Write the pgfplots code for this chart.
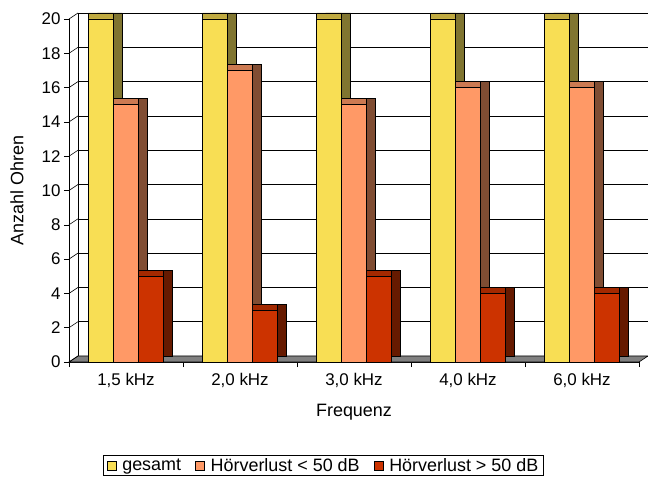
\documentclass[border=0pt]{standalone}
\usepackage{pgfplots}
\pgfplotsset{compat=1.18}
\usepackage{fontspec}
\setmainfont{Liberation Sans}
\definecolor{yfront}{RGB}{248,222,84}
\definecolor{ytop}{RGB}{192,170,64}
\definecolor{yside}{RGB}{128,117,48}
\definecolor{ofront}{RGB}{255,153,102}
\definecolor{otop}{RGB}{204,122,82}
\definecolor{oside}{RGB}{128,77,51}
\definecolor{rfront}{RGB}{204,51,0}
\definecolor{rtop}{RGB}{163,41,0}
\definecolor{rside}{RGB}{102,26,0}
\definecolor{floorgray}{RGB}{128,128,128}
\tikzset{box3d/.style n args={3}{fill=#1, draw=black, line width=0.6bp,
  preaction={fill=#3, draw=black, line width=0.6bp, transform canvas={shift={(9bp,6bp)}}},
  preaction={fill=#2, draw=black, line width=0.6bp, transform canvas={shift={(0bp,6bp)}}}}}
\newcommand{\tickfont}{\fontsize{17}{20}\selectfont}
\newcommand{\labfont}{\fontsize{18}{21}\selectfont}
\begin{document}
\begin{tikzpicture}
\useasboundingbox (-69bp,-115bp) rectangle (579bp,362bp);
\begin{axis}[
  at={(0,0)}, anchor=south west,
  scale only axis, width=570bp, height=343bp,
  clip=false,
  xmin=-0.5, xmax=4.5, ymin=0, ymax=20,
  axis x line*=bottom, axis y line*=left,
  axis line style={black, line width=0.6bp, -},
  xtick={-0.5,0.5,1.5,2.5,3.5,4.5},
  x tick label as interval,
  xticklabels={{1,5 kHz},{2,0 kHz},{3,0 kHz},{4,0 kHz},{6,0 kHz}},
  xticklabel style={yshift=-3bp},
  ytick={0,2,...,20},
  tick align=outside, major tick length=5bp,
  tick style={black, line width=0.6bp},
  ymajorgrids,
  major grid style={black, line width=0.6bp, transform canvas={shift={(9bp,6bp)}}},
  tick label style={font=\tickfont},
  /pgf/number format/assume math mode=true,
  xlabel={Frequenz}, ylabel={Anzahl Ohren},
  every axis x label/.style={at={(axis description cs:0.5,0)}, anchor=center, yshift=-50bp, font=\labfont},
  every axis y label/.style={at={(axis description cs:-0.0912,0.5)}, anchor=center, rotate=90, font=\labfont},
  legend columns=3,
  legend style={at={(axis description cs:0.4465,-0.2711)}, anchor=north, draw=black, line width=0.6bp,
    font=\labfont, inner sep=1bp, inner xsep=3bp,
    /tikz/every odd column/.append style={column sep=4bp},
    /tikz/every even column/.append style={column sep=12bp}},
]
% floor
\addplot[fill=floorgray, draw=black, line width=0.6bp, forget plot]
  coordinates {(-0.5,0) (4.5,0) (4.579,0.35) (-0.421,0.35)} -- cycle;
% back-left wall edge and diagonal ticks
\addplot[black, line width=0.6bp, forget plot] coordinates {(-0.421,0.35) (-0.421,20.35)};
\addplot[black, line width=0.6bp, forget plot, unbounded coords=jump] coordinates {
 (-0.5,0) (-0.421,0.35) (-0.5,nan)
 (-0.5,2) (-0.421,2.35) (-0.5,nan)
 (-0.5,4) (-0.421,4.35) (-0.5,nan)
 (-0.5,6) (-0.421,6.35) (-0.5,nan)
 (-0.5,8) (-0.421,8.35) (-0.5,nan)
 (-0.5,10) (-0.421,10.35) (-0.5,nan)
 (-0.5,12) (-0.421,12.35) (-0.5,nan)
 (-0.5,14) (-0.421,14.35) (-0.5,nan)
 (-0.5,16) (-0.421,16.35) (-0.5,nan)
 (-0.5,18) (-0.421,18.35) (-0.5,nan)
 (-0.5,20) (-0.421,20.35)};
% bars
\addplot[ybar, bar width=25bp, bar shift=-25bp, box3d={yfront}{ytop}{yside}, forget plot]
  coordinates {(0,20) (1,20) (2,20) (3,20) (4,20)};
\addplot[ybar, bar width=25bp, bar shift=0bp, box3d={ofront}{otop}{oside}, forget plot]
  coordinates {(0,15) (1,17) (2,15) (3,16) (4,16)};
\addplot[ybar, bar width=25bp, bar shift=25bp, box3d={rfront}{rtop}{rside}, forget plot]
  coordinates {(0,5) (1,3) (2,5) (3,4) (4,4)};
% legend
\addlegendimage{legend image code/.code={\draw[fill=yfront, draw=black, line width=0.6bp] (0bp,-4.5bp) rectangle (9bp,4.5bp);}}
\addlegendentry{gesamt}
\addlegendimage{legend image code/.code={\draw[fill=ofront, draw=black, line width=0.6bp] (0bp,-4.5bp) rectangle (9bp,4.5bp);}}
\addlegendentry{Hörverlust < 50 dB}
\addlegendimage{legend image code/.code={\draw[fill=rfront, draw=black, line width=0.6bp] (0bp,-4.5bp) rectangle (9bp,4.5bp);}}
\addlegendentry{Hörverlust > 50 dB}
\end{axis}
\end{tikzpicture}
\end{document}
